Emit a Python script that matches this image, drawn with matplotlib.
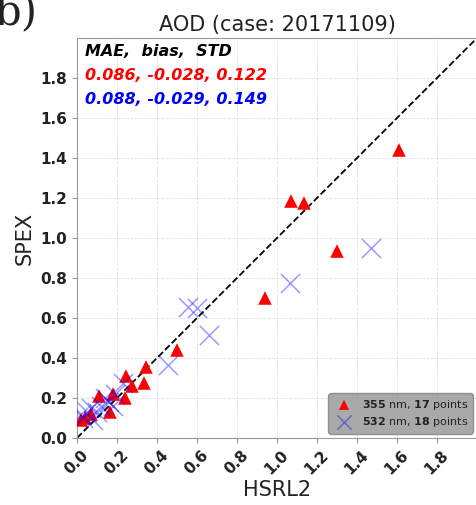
import matplotlib
matplotlib.use("Agg")
import matplotlib.pyplot as plt

# 355 nm retrievals (HSRL2, SPEX)
x355 = [1.61, 1.07, 1.135, 1.30, 0.94, 0.50, 0.345, 0.335, 0.245, 0.275,
        0.24, 0.165, 0.11, 0.18, 0.07, 0.04, 0.02]
y355 = [1.44, 1.185, 1.175, 0.935, 0.70, 0.44, 0.355, 0.275, 0.31, 0.26,
        0.20, 0.13, 0.21, 0.22, 0.12, 0.10, 0.09]
# 532 nm retrievals
x532 = [1.47, 1.065, 0.66, 0.555, 0.60, 0.455, 0.23, 0.19, 0.16, 0.14,
        0.12, 0.10, 0.07, 0.05, 0.03, 0.08, 0.02, 0.18]
y532 = [0.95, 0.775, 0.515, 0.655, 0.65, 0.365, 0.275, 0.22, 0.18, 0.20,
        0.16, 0.13, 0.15, 0.13, 0.10, 0.09, 0.12, 0.16]

stats_hdr = "MAE,  bias,  STD"
stats355 = "0.086, -0.028, 0.122"
stats532 = "0.088, -0.029, 0.149"
ticks = [0.0, 0.2, 0.4, 0.6, 0.8, 1.0, 1.2, 1.4, 1.6, 1.8]

fig = plt.figure(figsize=(4.77, 5.05), dpi=100)
ax = fig.add_axes([0.1614, 0.1327, 0.8386, 0.792])

ax.plot([0, 2], [0, 2], color="black", linestyle="--", linewidth=1.3, zorder=2)
ax.scatter(x355, y355, marker="^", s=95, color="red", edgecolors="none",
           zorder=3, label=r"$\bf{355}$ nm, $\bf{17}$ points")
ax.scatter(x532, y532, marker="x", s=190, color="blue", alpha=0.4,
           linewidths=1.1, zorder=4, label=r"$\bf{532}$ nm, $\bf{18}$ points")

ax.set_xlim(0, 2)
ax.set_ylim(0, 2)
ax.set_xticks(ticks)
ax.set_yticks(ticks)
ax.grid(True, color="#e2e2e2", linestyle="--", linewidth=0.6)
ax.set_axisbelow(True)
for s in ax.spines.values():
    s.set_color("#999999")
ax.tick_params(colors="#999999", labelcolor="#222222", labelsize=11)
for lab in ax.get_xticklabels():
    lab.set_fontweight("bold")
    lab.set_rotation(45)
for lab in ax.get_yticklabels():
    lab.set_fontweight("bold")

ax.set_title("AOD (case: 20171109)", fontsize=15, color="#222222", pad=5)
ax.set_xlabel("HSRL2", fontsize=15, color="#222222", labelpad=2)
ax.set_ylabel("SPEX", fontsize=15, color="#222222", labelpad=4)

ax.text(0.02, 0.985, stats_hdr, transform=ax.transAxes, fontsize=11.5,
        fontweight="bold", style="italic", color="black", va="top")
ax.text(0.02, 0.925, stats355, transform=ax.transAxes, fontsize=11.5,
        fontweight="bold", style="italic", color="red", va="top")
ax.text(0.02, 0.865, stats532, transform=ax.transAxes, fontsize=11.5,
        fontweight="bold", style="italic", color="blue", va="top")

leg = ax.legend(loc="lower right", fontsize=8, facecolor="#a0a0a0",
                framealpha=0.9, edgecolor="#888888", handletextpad=0.6,
                borderpad=0.4, labelspacing=0.3, markerscale=0.75,
                borderaxespad=0.4)
for t in leg.get_texts():
    t.set_color("#222222")

fig.text(-0.012, 1.018, "b)", fontsize=30, family="DejaVu Serif",
         color="#222222", va="top")

fig.savefig("out.png", dpi=100)
